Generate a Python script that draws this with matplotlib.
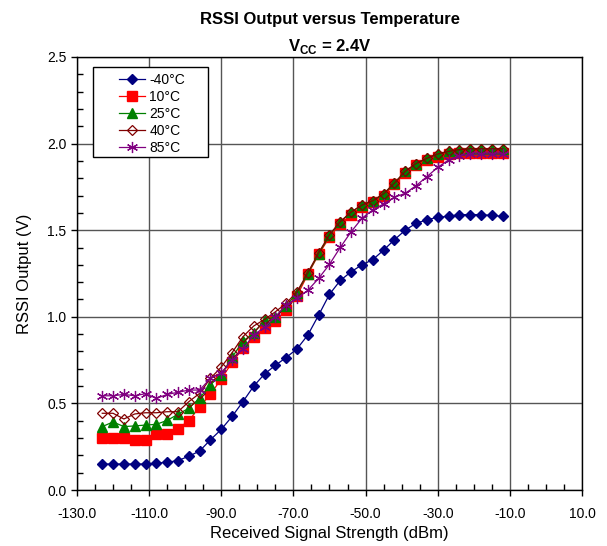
import numpy as np
import matplotlib
matplotlib.use("Agg")
import matplotlib.pyplot as plt
from matplotlib.patches import Rectangle
from matplotlib.ticker import MultipleLocator, FormatStrFormatter

plt.rcParams['font.family'] = ['Liberation Sans', 'DejaVu Sans']
plt.rcParams['mathtext.fontset'] = 'custom'
plt.rcParams['mathtext.bf'] = 'Liberation Sans:bold'
plt.rcParams['mathtext.rm'] = 'Liberation Sans'

# Data
signal_dbm = list(range(-123, -11, 3))

rssi_m40 = [0.15, 0.15, 0.15, 0.15, 0.15, 0.155, 0.16, 0.17, 0.195, 0.225,
            0.29, 0.35, 0.425, 0.51, 0.60, 0.67, 0.72, 0.765, 0.815, 0.895,
            1.01, 1.13, 1.21, 1.26, 1.30, 1.33, 1.385, 1.445, 1.50, 1.54,
            1.56, 1.575, 1.58, 1.59, 1.59, 1.59, 1.585, 1.58]
rssi_10 = [0.30, 0.30, 0.30, 0.29, 0.29, 0.325, 0.325, 0.355, 0.40, 0.48,
           0.553, 0.641, 0.737, 0.818, 0.885, 0.933, 0.976, 1.039, 1.122, 1.245,
           1.36, 1.46, 1.535, 1.59, 1.635, 1.66, 1.70, 1.765, 1.83, 1.875,
           1.905, 1.925, 1.94, 1.945, 1.945, 1.945, 1.945, 1.945]
rssi_25 = [0.366, 0.393, 0.366, 0.37, 0.375, 0.379, 0.402, 0.437, 0.472, 0.53,
           0.608, 0.664, 0.766, 0.86, 0.905, 0.982, 1.0, 1.062, 1.14, 1.25,
           1.365, 1.47, 1.548, 1.605, 1.645, 1.67, 1.71, 1.772, 1.84, 1.885,
           1.915, 1.94, 1.955, 1.965, 1.97, 1.97, 1.97, 1.97]
rssi_40 = [0.443, 0.443, 0.41, 0.439, 0.446, 0.446, 0.452, 0.452, 0.51, 0.558,
           0.645, 0.71, 0.793, 0.885, 0.947, 0.985, 1.029, 1.078, 1.145, 1.255,
           1.37, 1.475, 1.55, 1.605, 1.645, 1.67, 1.71, 1.772, 1.84, 1.885,
           1.915, 1.94, 1.955, 1.965, 1.97, 1.97, 1.97, 1.97]
rssi_85 = [0.544, 0.544, 0.552, 0.544, 0.556, 0.529, 0.552, 0.564, 0.577, 0.577,
           0.645, 0.677, 0.75, 0.814, 0.895, 0.94, 1.0, 1.07, 1.107, 1.153,
           1.222, 1.303, 1.401, 1.491, 1.569, 1.617, 1.652, 1.69, 1.713, 1.757,
           1.809, 1.863, 1.905, 1.93, 1.938, 1.94, 1.94, 1.94]

x_ticks = [-130, -110, -90, -70, -50, -30, -10, 10]

fig = plt.figure(figsize=(6.07, 5.46), dpi=100)
ax = fig.add_axes([77/607, 56/546, 505/607, 433/546])

l1, = ax.plot(signal_dbm, rssi_m40, color='#000080', marker='D', ms=5, lw=0.9, label='-40°C')
l2, = ax.plot(signal_dbm, rssi_10, color='#ff0000', marker='s', ms=7, lw=0.9, label='10°C')
l4, = ax.plot(signal_dbm, rssi_40, color='#800000', marker='D', ms=5.5, mfc='none', mew=0.9,
              lw=0.9, label='40°C', zorder=2.1)
l3, = ax.plot(signal_dbm, rssi_25, color='#008000', marker='^', ms=6.5, lw=0.9, label='25°C',
              zorder=2.05)
l5, = ax.plot(signal_dbm, rssi_85, color='#800080', marker=(6, 2, 0), ms=8, mew=0.9, lw=0.9,
              label='85°C', zorder=2.2)

ax.set_xlim(-130, 10)
ax.set_ylim(0, 2.5)
ax.set_xticks(x_ticks)
ax.xaxis.set_minor_locator(MultipleLocator(5))
ax.yaxis.set_major_locator(MultipleLocator(0.5))
ax.yaxis.set_minor_locator(MultipleLocator(0.1))
ax.xaxis.set_major_formatter(FormatStrFormatter('%.1f'))
ax.yaxis.set_major_formatter(FormatStrFormatter('%.1f'))
ax.tick_params(which='major', direction='out', length=4, width=1, labelsize=10)
ax.tick_params(axis='x', which='major', pad=8)
ax.tick_params(which='minor', direction='in', length=4, width=1)
ax.grid(True, which='major', color='#555555', lw=1)
ax.set_axisbelow(True)
for s in ax.spines.values():
    s.set_linewidth(1)

ax.set_xlabel('Received Signal Strength (dBm)', fontsize=12, labelpad=4)
ax.set_ylabel('RSSI Output (V)', fontsize=12, labelpad=11)

fig.text(0.543, 0.965, 'RSSI Output versus Temperature', ha='center', va='center',
         fontsize=12, fontweight='bold')
fig.text(0.543, 0.915, r'V$_{\mathbf{CC}}$ = 2.4V', ha='center', va='center',
         fontsize=12, fontweight='bold')

# legend box
box = Rectangle((0.0317, 0.769), 0.2277, 0.208, transform=ax.transAxes,
                facecolor='white', edgecolor='black', lw=1, zorder=3)
ax.add_patch(box)
leg = ax.legend([l1, l2, l3, l4, l5], ['-40°C', '10°C', '25°C', '40°C', '85°C'],
                loc='upper left', bbox_to_anchor=(0.083, 0.963), frameon=False,
                borderaxespad=0, borderpad=0, fontsize=10, handlelength=1.9,
                handletextpad=0.3, labelspacing=0.22)
leg.set_zorder(4)

fig.savefig('out.png', dpi=100)
